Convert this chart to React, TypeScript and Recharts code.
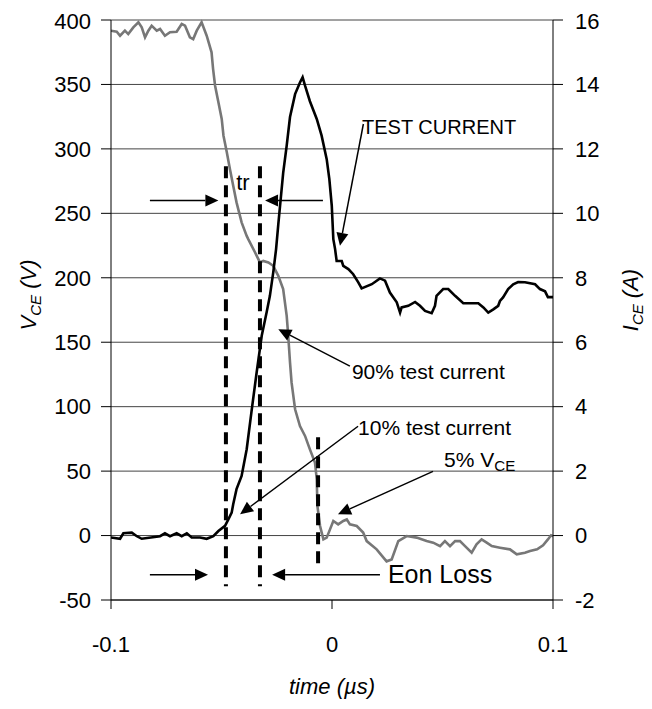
import React from "react";
import {
  LineChart,
  Line,
  XAxis,
  YAxis,
  CartesianGrid,
  ReferenceLine,
  ReferenceDot,
  Label,
} from "recharts";

const FONT = '"Liberation Sans", Arial, Helvetica, sans-serif';

// Axis ticks
const timeTicks = [-0.1, 0, 0.1];
const voltTicks = [-50, 0, 50, 100, 150, 200, 250, 300, 350, 400];
const currTicks = [-2, 0, 2, 4, 6, 8, 10, 12, 14, 16];

// V_CE trace (time in µs, volts)
const vceTime = [
  -0.1, -0.0974, -0.0959, -0.0937, -0.0922, -0.0899, -0.0876, -0.0861, -0.0846, -0.0831,
  -0.0816, -0.0793, -0.0778, -0.0756, -0.0733, -0.0703, -0.068, -0.0665, -0.0643, -0.0628,
  -0.0612, -0.059, -0.0567, -0.0545, -0.0538, -0.0529, -0.0514, -0.0499, -0.0491, -0.0476,
  -0.0462, -0.0447, -0.0432, -0.0409, -0.0386, -0.0379, -0.0348, -0.0326, -0.0311, -0.0288,
  -0.0266, -0.0243, -0.0221, -0.0205, -0.0198, -0.019, -0.0183, -0.0167, -0.0145, -0.0122,
  -0.01, -0.0077, -0.0069, -0.0066, -0.0054, -0.0039, -0.0024, -0.0009, 0.0006, 0.0028,
  0.0051, 0.0067, 0.0081, 0.0112, 0.0141, 0.0157, 0.0202, 0.0247, 0.027, 0.03,
  0.0338, 0.0383, 0.0428, 0.0458, 0.0489, 0.0511, 0.0534, 0.0557, 0.0579, 0.0602,
  0.0632, 0.0654, 0.0677, 0.07, 0.0723, 0.076, 0.0805, 0.0836, 0.0873, 0.0896,
  0.0928, 0.0955, 0.0977, 0.0991, 0.1,
];
const vceVolts = [
  391.7, 390.9, 387.8, 391.7, 389.1, 394.3, 398.2, 394.3, 386.6, 391.7,
  395.6, 391.7, 393.0, 387.8, 390.5, 390.9, 396.9, 395.6, 386.6, 385.2,
  391.7, 398.2, 387.8, 374.9, 361.9, 349.0, 336.1, 323.2, 310.2, 297.3,
  284.4, 271.4, 258.5, 243.0, 232.5, 230.0, 219.6, 211.9, 213.1, 211.9,
  209.3, 201.5, 191.2, 170.4, 154.9, 134.3, 118.8, 98.0, 85.0, 77.3,
  66.9, 56.6, 43.7, 22.9, 7.4, -3.0, -1.6, 4.8, 11.3, 8.7,
  11.3, 12.6, 8.7, 7.4, 2.3, -4.3, -10.7, -20.0, -18.5, -4.3,
  -0.4, -1.6, -4.3, -5.5, -8.2, -4.3, -8.2, -4.3, -4.3, -8.2,
  -13.3, -6.8, -3.0, -5.5, -8.2, -9.4, -10.7, -14.6, -13.3, -12.0,
  -10.7, -7.6, -3.0, 0.2, -0.6,
];

// I_CE trace (time in µs, amps)
const iceTime = [
  -0.1, -0.0959, -0.0944, -0.0906, -0.0883, -0.0861, -0.0778, -0.0756, -0.0733, -0.0703,
  -0.068, -0.0657, -0.0635, -0.0597, -0.0567, -0.0537, -0.0514, -0.0484, -0.0469, -0.0454,
  -0.0447, -0.0432, -0.0409, -0.0386, -0.0364, -0.0341, -0.0318, -0.0296, -0.0281, -0.0266,
  -0.0253, -0.0243, -0.0221, -0.0205, -0.019, -0.0167, -0.0145, -0.0133, -0.0122, -0.01,
  -0.0069, -0.0047, -0.0024, -0.0012, -0.0001, 0.0006, 0.0014, 0.0021, 0.0044, 0.0051,
  0.0074, 0.0096, 0.0119, 0.0134, 0.018, 0.0217, 0.024, 0.0262, 0.0293, 0.0308,
  0.0315, 0.0345, 0.0376, 0.0398, 0.0421, 0.0451, 0.0466, 0.0473, 0.0503, 0.0526,
  0.0557, 0.0594, 0.0662, 0.0685, 0.0707, 0.073, 0.0752, 0.076, 0.0774, 0.0797,
  0.082, 0.0842, 0.0873, 0.0919, 0.0941, 0.0964, 0.0977, 0.1,
];
const iceAmps = [
  -0.06, -0.1, 0.07, 0.09, -0.02, -0.1, -0.02, 0.07, -0.02, 0.07,
  -0.02, 0.07, -0.06, -0.06, -0.1, -0.02, 0.14, 0.3, 0.5, 0.71,
  0.97, 1.44, 1.85, 2.68, 3.86, 5.06, 6.2, 6.92, 7.44, 8.16,
  8.89, 9.66, 11.25, 12.1, 12.99, 13.7, 14.06, 14.22, 13.96, 13.48,
  12.93, 12.41, 11.68, 11.06, 10.23, 9.2, 8.89, 8.52, 8.52, 8.37,
  8.27, 8.11, 7.86, 7.67, 7.8, 7.98, 7.91, 7.54, 7.24, 6.92,
  7.08, 7.13, 7.25, 7.13, 6.97, 6.9, 7.13, 7.44, 7.65, 7.65,
  7.44, 7.21, 7.21, 7.08, 6.92, 7.02, 7.13, 7.28, 7.39, 7.65,
  7.8, 7.87, 7.86, 7.8, 7.65, 7.58, 7.4, 7.4,
];

// Annotation anchors (time µs, volts)
const dashedTimes = [-0.048, -0.0326, -0.0063];
const dashedTops = [286.6, 286.6, 76.2];
const dashedBottoms = [-39.4, -39.4, -22.4];

const arrowFromT = [-0.0824, -0.0041, -0.0824, 0.0217, 0.0142, 0.0081, 0.0118, 0.0457];
const arrowFromV = [260, 260, -30.5, -30.5, 319.3, 131.4, 84.8, 49.8];
const arrowToT = [-0.0514, -0.0303, -0.0561, -0.0271, 0.0036, -0.0243, -0.0416, 0.0027];
const arrowToV = [260, 260, -30.5, -30.5, 224.8, 160.1, 16.5, 16.5];

const noteTexts = ["tr", "TEST CURRENT", "90% test current", "10% test current", "5% V", "Eon Loss"];
const noteSubs = ["", "", "", "", "CE", ""];
const noteT = [-0.0403, 0.0136, 0.009, 0.0118, 0.0507, 0.0253];
const noteV = [274.2, 316.9, 127.5, 84.0, 59.2, -30.1];
const noteSizes = [22, 20, 21, 21, 21, 25];
const noteAnchors = ["middle", "start", "start", "start", "start", "start"];

const vceData = vceTime.map((t, i) => ({ t, v: vceVolts[i] }));
const iceData = iceTime.map((t, i) => ({ t, i: iceAmps[i] }));

const ArrowShape = (p: any) => {
  const x1 = Number(p.x1), y1 = Number(p.y1), x2 = Number(p.x2), y2 = Number(p.y2);
  const dx = x2 - x1, dy = y2 - y1;
  const len = Math.hypot(dx, dy) || 1;
  const ux = dx / len, uy = dy / len;
  const L = 13, W = 6;
  const bx = x2 - ux * L, by = y2 - uy * L;
  const pts = `${x2},${y2} ${bx - uy * W},${by + ux * W} ${bx + uy * W},${by - ux * W}`;
  return (
    <g>
      <line x1={x1} y1={y1} x2={bx} y2={by} stroke="#000" strokeWidth={1.5} />
      <polygon points={pts} fill="#000" />
    </g>
  );
};

const makeNote = (idx: number) => (p: any) => {
  const size = noteSizes[idx];
  return (
    <text
      x={p.cx}
      y={p.cy + size * 0.36}
      fontSize={size}
      fontFamily={FONT}
      fill="#000"
      textAnchor={noteAnchors[idx] as any}
    >
      {noteTexts[idx]}
      {noteSubs[idx] ? (
        <tspan fontSize={size * 0.72} dy={size * 0.18}>
          {noteSubs[idx]}
        </tspan>
      ) : null}
    </text>
  );
};

const LeftLabel = (props: any) => {
  const vb = props.viewBox || { x: 0, y: 12, width: 103, height: 580 };
  const cx = vb.x + 20;
  const cy = vb.y + vb.height / 2 - 15;
  return (
    <text
      x={cx}
      y={cy + 8}
      transform={`rotate(-90, ${cx}, ${cy})`}
      textAnchor="middle"
      fontSize={22}
      fontFamily={FONT}
      fontStyle="italic"
      fill="#000"
    >
      <tspan>V</tspan>
      <tspan fontSize={15} dy={5}>CE</tspan>
      <tspan dy={-5}> (V)</tspan>
    </text>
  );
};

const RightLabel = (props: any) => {
  const vb = props.viewBox || { x: 545, y: 12, width: 99, height: 580 };
  const cx = vb.x + 77;
  const cy = vb.y + vb.height / 2 - 10;
  return (
    <text
      x={cx}
      y={cy + 8}
      transform={`rotate(-90, ${cx}, ${cy})`}
      textAnchor="middle"
      fontSize={22}
      fontFamily={FONT}
      fontStyle="italic"
      fill="#000"
    >
      <tspan>I</tspan>
      <tspan fontSize={15} dy={5}>CE</tspan>
      <tspan dy={-5}> (A)</tspan>
    </text>
  );
};

const BottomLabel = (props: any) => {
  const vb = props.viewBox || { x: 103, y: 592, width: 442, height: 101 };
  const cx = vb.x + vb.width / 2;
  const cy = vb.y + 86;
  return (
    <text
      x={cx}
      y={cy + 8}
      textAnchor="middle"
      fontSize={22}
      fontFamily={FONT}
      fontStyle="italic"
      fill="#000"
    >
      time (µs)
    </text>
  );
};

const tickStyle = { fill: "#000", fontSize: 22, fontFamily: FONT };

export default function App() {
  return (
    <LineChart width={644} height={693} margin={{ top: 12, right: 0, bottom: 0, left: 0 }}>
      <CartesianGrid yAxisId="v" vertical={false} stroke="#444" strokeWidth={1} />
      <XAxis
        dataKey="t"
        type="number"
        domain={[-0.1, 0.1]}
        ticks={timeTicks}
        allowDataOverflow
        height={101}
        tickSize={9}
        tickMargin={27}
        tick={tickStyle}
        axisLine={{ stroke: "#000" }}
        tickLine={{ stroke: "#000" }}
        tickFormatter={(v: number) => (Math.abs(v) < 1e-9 ? "0" : String(v))}
      >
        <Label content={BottomLabel} />
      </XAxis>
      <YAxis
        yAxisId="v"
        orientation="left"
        type="number"
        domain={[-50, 400]}
        ticks={voltTicks}
        width={103}
        tickSize={10}
        tickMargin={10}
        tick={tickStyle}
        axisLine={{ stroke: "#000" }}
        tickLine={{ stroke: "#000" }}
      >
        <Label content={LeftLabel} />
      </YAxis>
      <YAxis
        yAxisId="i"
        orientation="right"
        type="number"
        domain={[-2, 16]}
        ticks={currTicks}
        width={99}
        tickSize={10}
        tickMargin={12}
        tick={tickStyle}
        axisLine={{ stroke: "#000" }}
        tickLine={{ stroke: "#000" }}
      >
        <Label content={RightLabel} />
      </YAxis>

      <Line
        yAxisId="v"
        data={vceData}
        dataKey="v"
        type="linear"
        stroke="#777"
        strokeWidth={2.6}
        dot={false}
        isAnimationActive={false}
      />
      <Line
        yAxisId="i"
        data={iceData}
        dataKey="i"
        type="linear"
        stroke="#000"
        strokeWidth={2.6}
        dot={false}
        isAnimationActive={false}
      />

      {dashedTimes.map((t, k) => (
        <ReferenceLine
          key={`d${k}`}
          yAxisId="v"
          segment={[
            { x: t, y: dashedTops[k] },
            { x: t, y: dashedBottoms[k] },
          ]}
          stroke="#000"
          strokeWidth={4}
          strokeDasharray="12 7"
        />
      ))}

      {arrowFromT.map((t, k) => (
        <ReferenceLine
          key={`a${k}`}
          yAxisId="v"
          segment={[
            { x: t, y: arrowFromV[k] },
            { x: arrowToT[k], y: arrowToV[k] },
          ]}
          shape={ArrowShape}
        />
      ))}

      {noteTexts.map((txt, k) => (
        <ReferenceDot
          key={`n${k}`}
          yAxisId="v"
          x={noteT[k]}
          y={noteV[k]}
          r={0}
          shape={makeNote(k)}
        />
      ))}
    </LineChart>
  );
}
